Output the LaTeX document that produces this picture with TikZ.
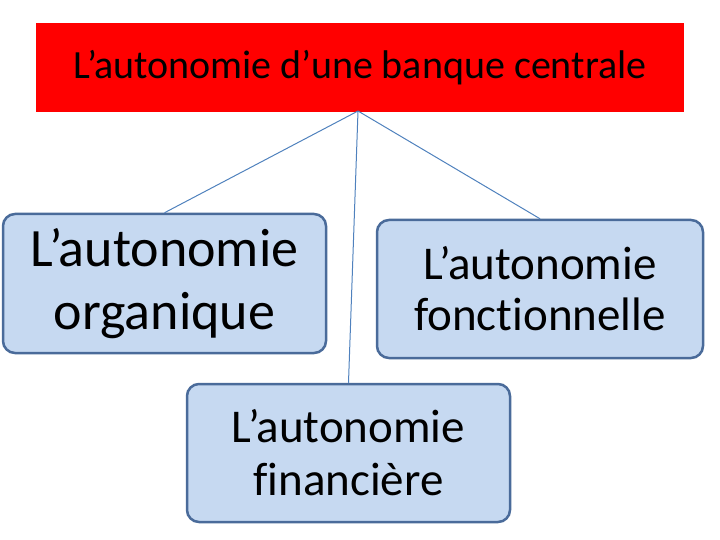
\documentclass[tikz,border=0pt]{standalone}
\usepackage{fontspec}
\setmainfont[Ligatures=NoCommon]{Carlito}
\definecolor{boxfill}{HTML}{C6D9F1}
\definecolor{boxedge}{HTML}{4A6B9A}
\definecolor{linkcol}{HTML}{4F81BD}
\tikzset{
    branchbox/.style={draw=boxedge, line width=2.5pt, fill=boxfill, rounded corners=12pt, align=center, inner sep=0pt},
    link/.style={draw=linkcol, line width=1pt},
}
\begin{document}
\begin{tikzpicture}[x=1pt, y=-1pt]
        \useasboundingbox (0,0) rectangle (720,540);
        \node[fill=red, minimum width=648pt, minimum height=89pt, inner sep=0pt, font=\fontsize{40}{44}\selectfont] (Titre) at (360,68) {L’autonomie d’une banque centrale};

        \node[branchbox, minimum width=323pt, minimum height=139pt, font=\fontsize{54}{63}\selectfont] (Org) at (164.5,283.5) {L’autonomie\\organique};
        \node[branchbox, minimum width=326pt, minimum height=138pt, font=\fontsize{47}{51}\selectfont] (Fonc) at (540,289) {L’autonomie\\fonctionnelle};
        \node[branchbox, minimum width=323pt, minimum height=138pt, font=\fontsize{47}{53}\selectfont] (Fin) at (348.5,453) {L’autonomie\\financière};

        \coordinate (Pied) at (358,111);

        \draw[link] (Pied) -- (Org.north);
        \draw[link] (Pied) -- (Fonc.north);
        \draw[link] (Pied) -- (Fin.north);
    \end{tikzpicture}
\end{document}
